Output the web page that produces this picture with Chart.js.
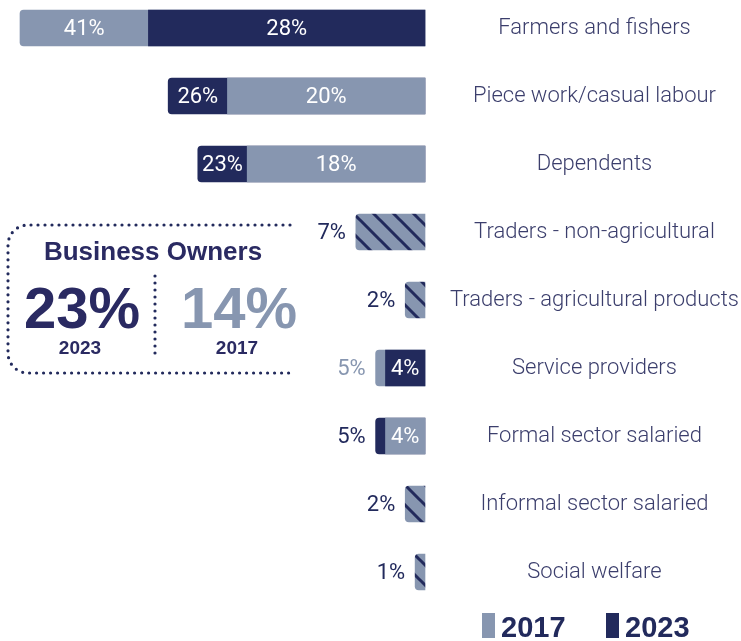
<!DOCTYPE html>
<html>
<head>
<meta charset="utf-8">
<script src="https://cdn.jsdelivr.net/npm/chart.js@4.4.1/dist/chart.umd.min.js"></script>
<style>
  html, body { margin: 0; background: #fff; }
  #wrap { width: 741px; height: 641px; }
</style>
</head>
<body>
<div id="wrap"><canvas id="livelihoodChart" width="741" height="641"></canvas></div>
<script>
const categories = ["Farmers and fishers", "Piece work/casual labour", "Dependents",
  "Traders - non-agricultural", "Traders - agricultural products", "Service providers",
  "Formal sector salaried", "Informal sector salaried", "Social welfare"];
const years = ["2017", "2023"];
const share2017 = [41, 20, 18, 7, 2, 5, 4, 2, 1];
const share2023 = [28, 26, 23, 7, 2, 4, 5, 2, 1];
const businessOwners = [14, 23]; // 2017, 2023

const DARK = '#222a5c';
const LIGHT = '#8796b0';
const INK = '#3b3e6c';
const THIN = 'Roboto, "Liberation Sans", sans-serif';
const WIDE = '"Liberation Sans", Arial, sans-serif';
const yearColors = [LIGHT, DARK];

const canvas = document.getElementById('livelihoodChart');
const ctx = canvas.getContext('2d');

// diagonal hatch for categories where both years are equal
function makeHatch() {
  const t = document.createElement('canvas');
  t.width = 20; t.height = 20;
  const g = t.getContext('2d');
  g.fillStyle = LIGHT; g.fillRect(0, 0, 20, 20);
  g.strokeStyle = DARK; g.lineWidth = 3;
  g.beginPath();
  g.moveTo(-5, -5); g.lineTo(25, 25);
  g.moveTo(-5, 15); g.lineTo(5, 25);
  g.moveTo(15, -5); g.lineTo(25, 5);
  g.stroke();
  return ctx.createPattern(t, 'repeat');
}
const hatch = makeHatch();

const same = share2017.map((v, i) => v === share2023[i]);
const backVals = share2017.map((v, i) => Math.max(v, share2023[i]));
const frontVals = share2017.map((v, i) => same[i] ? null : Math.min(v, share2023[i]));
const backColors = share2017.map((v, i) => same[i] ? hatch : (v > share2023[i] ? LIGHT : DARK));
const frontColors = share2017.map((v, i) => v > share2023[i] ? DARK : LIGHT);

// size the category labels so the longest is ~289px wide, centred near x=594
ctx.font = '300 22px ' + THIN;
const w22 = Math.max(...categories.map(c => ctx.measureText(c).width));
const labelSize = Math.round(22 * 289 / w22 * 10) / 10;
const labelFont = { family: THIN, size: labelSize, weight: '300' };
ctx.font = '300 ' + labelSize + 'px ' + THIN;
const widest = Math.max(...categories.map(c => ctx.measureText(c).width));
const tickPad = Math.round(169 - widest / 2);

const valueLabels = {
  id: 'valueLabels',
  afterDatasetsDraw(chart) {
    const c = chart.ctx;
    const back = chart.getDatasetMeta(0).data;
    const front = chart.getDatasetMeta(1).data;
    c.save();
    c.font = '22px ' + THIN;
    c.textBaseline = 'middle';
    const outside = (x, y, txt, col) => {
      c.textAlign = 'right'; c.fillStyle = col; c.fillText(txt, x - 10, y);
    };
    categories.forEach((_, i) => {
      const a = share2017[i], b = share2023[i];
      const bk = back[i];
      const y = bk.y + 1;
      const backTxt = Math.max(a, b) + '%';
      if (same[i]) { outside(bk.x, y, backTxt, DARK); return; }
      const fr = front[i];
      c.textAlign = 'center'; c.fillStyle = '#fff';
      c.fillText(Math.min(a, b) + '%', (fr.x + fr.base) / 2, y);
      if (fr.x - bk.x > 42) {
        c.fillStyle = '#fff';
        c.fillText(backTxt, (bk.x + fr.x) / 2, y);
      } else {
        outside(bk.x, y, backTxt, a > b ? LIGHT : DARK);
      }
    });
    c.restore();
  }
};

const extras = {
  id: 'extras',
  afterDraw(chart) {
    const c = chart.ctx;
    c.save();
    // dotted callout
    c.strokeStyle = DARK; c.lineWidth = 3.2; c.lineCap = 'round';
    c.setLineDash([0, 7]);
    c.beginPath();
    c.moveTo(290, 225); c.lineTo(28, 225);
    c.arcTo(8, 225, 8, 245, 20);
    c.lineTo(8, 353);
    c.arcTo(8, 373, 28, 373, 20);
    c.lineTo(290, 373);
    c.stroke();
    c.beginPath(); c.moveTo(155, 276); c.lineTo(155, 354); c.stroke();
    c.setLineDash([]);

    c.textAlign = 'center'; c.textBaseline = 'alphabetic';
    c.fillStyle = '#2a2a62';
    c.font = 'bold 26px ' + WIDE;
    c.fillText('Business Owners', 153, 260);
    c.font = 'bold 58px ' + WIDE;
    c.fillText(businessOwners[1] + '%', 82, 328);
    c.fillStyle = LIGHT;
    c.fillText(businessOwners[0] + '%', 239, 328);
    c.fillStyle = '#2a2a62';
    c.font = 'bold 19px ' + WIDE;
    c.fillText(years[1], 80, 354);
    c.fillText(years[0], 237, 354);

    // legend
    c.textAlign = 'left';
    c.font = 'bold 29px ' + WIDE;
    const lx = [482, 606];
    years.forEach((yr, k) => {
      c.fillStyle = yearColors[k];
      c.fillRect(lx[k], 613, 13, 25);
      c.fillStyle = DARK;
      c.fillText(yr, lx[k] + 19, 637);
    });
    c.restore();
  }
};

new Chart(canvas, {
  type: 'bar',
  data: {
    labels: categories,
    datasets: [
      { label: 'back', data: backVals, backgroundColor: backColors, borderRadius: 4,
        grouped: false, barThickness: 36, order: 2, clip: false },
      { label: 'front', data: frontVals, backgroundColor: frontColors, borderRadius: 0,
        grouped: false, barThickness: 36, order: 1, clip: false }
    ]
  },
  options: {
    indexAxis: 'y',
    responsive: false,
    animation: false,
    events: [],
    layout: { padding: { top: 28, bottom: 69, left: 20, right: 0 } },
    plugins: { legend: { display: false }, tooltip: { enabled: false } },
    scales: {
      x: { type: 'linear', reverse: true, min: 0,
           max: Math.max(...share2017, ...share2023), display: false },
      y: {
        position: 'right', offset: false,
        grid: { display: false, drawTicks: false }, border: { display: false },
        ticks: { autoSkip: false, crossAlign: 'center', padding: tickPad,
                 color: INK, font: labelFont },
        afterFit(scale) {
          scale.width = 316;
          scale.paddingTop = 0;
          scale.paddingBottom = 0;
        }
      }
    }
  },
  plugins: [valueLabels, extras]
});
</script>
</body>
</html>
